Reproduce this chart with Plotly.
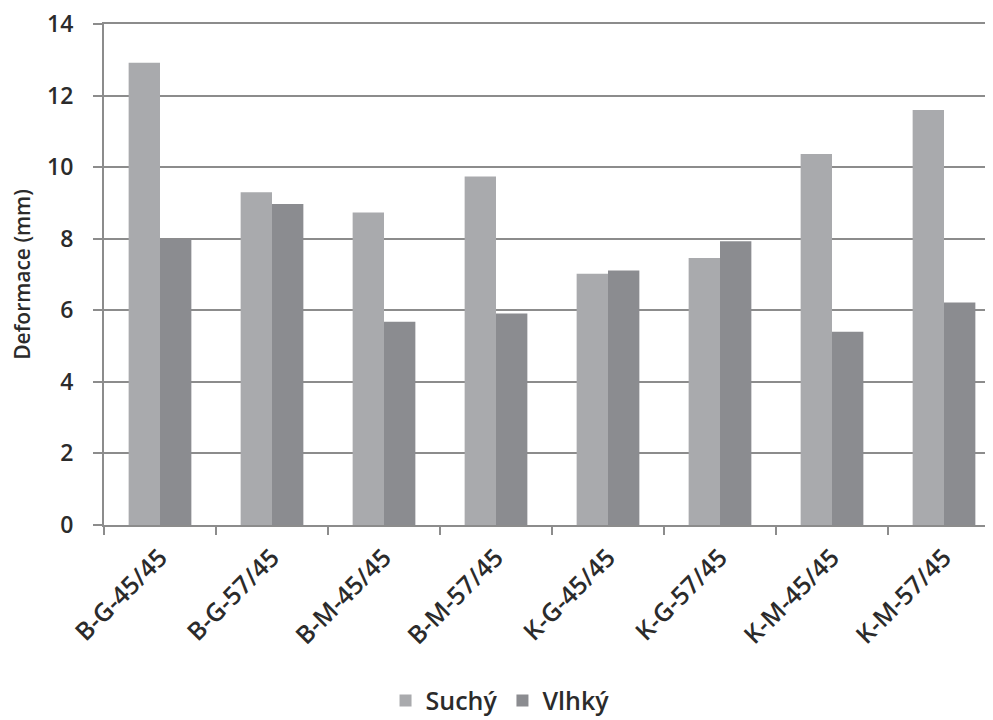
import plotly.graph_objects as go

categories = ["B-G-45/45", "B-G-57/45", "B-M-45/45", "B-M-57/45",
              "K-G-45/45", "K-G-57/45", "K-M-45/45", "K-M-57/45"]
suchy = [12.92, 9.30, 8.73, 9.74, 7.02, 7.46, 10.37, 11.60]
vlhky = [8.00, 8.97, 5.68, 5.91, 7.11, 7.93, 5.40, 6.22]
y_ticks = [0, 2, 4, 6, 8, 10, 12, 14]

FONT = "Open Sans"
TXT = "#2b2b2b"
GRID = "#8c8c8c"

fig = go.Figure()
fig.add_trace(go.Bar(name="Suchý", x=categories, y=suchy,
                     marker=dict(color="#a9aaad", line=dict(width=0))))
fig.add_trace(go.Bar(name="Vlhký", x=categories, y=vlhky,
                     marker=dict(color="#8b8c90", line=dict(width=0))))

fig.update_layout(
    width=993, height=720,
    paper_bgcolor="white", plot_bgcolor="white",
    barmode="group", bargap=0.44, bargroupgap=0,
    margin=dict(l=96, r=1, t=16, b=203, pad=0, autoexpand=False),
    font=dict(family=FONT, color=TXT),
    showlegend=True,
    legend=dict(orientation="h",
                x=0.442, xanchor="center", y=-0.351, yanchor="middle",
                font=dict(size=25, family=FONT, color=TXT, weight=600),
                itemwidth=30, tracegroupgap=0, traceorder="normal"),
)
fig.update_xaxes(
    range=[-0.5, 7.5], type="category",
    showline=True, linecolor=GRID, linewidth=2, mirror=True,
    ticks="outside", tickson="boundaries", ticklen=8, tickcolor=GRID, tickwidth=2,
    tickangle=-45, showgrid=False,
    tickfont=dict(size=25, family=FONT, color=TXT, weight=600),
    ticklabelstandoff=6,
)
fig.update_yaxes(
    range=[0, 14], tickvals=y_ticks,
    showline=True, linecolor=GRID, linewidth=2,
    ticks="outside", ticklen=9, tickcolor=GRID, tickwidth=2,
    showgrid=True, gridcolor=GRID, gridwidth=2, zeroline=False,
    tickfont=dict(size=23, family=FONT, color=TXT, weight=600),
    ticklabelstandoff=15, ticklabeloverflow="allow",
    title=dict(text="Deformace (mm)", font=dict(size=21, family=FONT, color=TXT, weight=600),
               standoff=15),
)

fig.write_html("out.html")
